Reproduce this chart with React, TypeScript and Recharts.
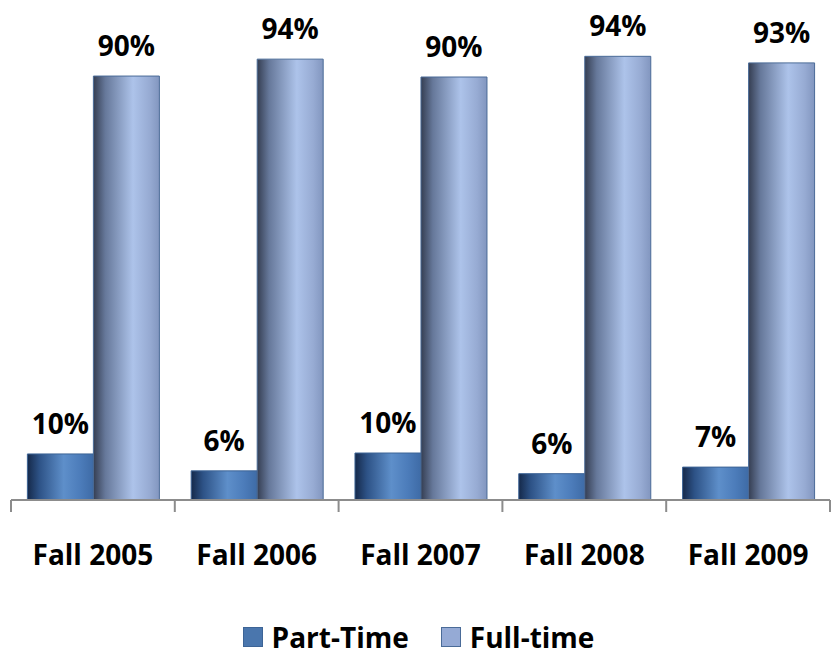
import React from 'react';
import { BarChart, Bar, XAxis, YAxis, LabelList, Legend } from 'recharts';

const YEARS = ['Fall 2005', 'Fall 2006', 'Fall 2007', 'Fall 2008', 'Fall 2009'];
const PART_TIME = [9.8, 6.2, 10.0, 5.6, 7.0];
const FULL_TIME = [90.2, 93.8, 90.0, 94.4, 93.0];

const data = YEARS.map((name, i) => ({ name, partTime: PART_TIME[i], fullTime: FULL_TIME[i] }));

const FONT = '"Open Sans", sans-serif';
const CHART_W = 837;
const MARGIN = { top: 30, right: 7, left: 11, bottom: 57 };
const BAND = (CHART_W - MARGIN.left - MARGIN.right) / YEARS.length;

const pct = (v: any) => `${Math.round(Number(v))}%`;

// category label plus tick marks on the category boundaries
const CategoryTick = (props: any) => {
  const { x, y, payload, index } = props;
  const left = x - BAND / 2;
  const right = x + BAND / 2;
  return (
    <g>
      <line x1={left} x2={left} y1={y} y2={y + 12} stroke="#8c8c8c" strokeWidth={2} />
      {index === YEARS.length - 1 && (
        <line x1={right} x2={right} y1={y} y2={y + 12} stroke="#8c8c8c" strokeWidth={2} />
      )}
      <text x={x} y={y + 65} textAnchor="middle" fontFamily={FONT} fontWeight={700} fontSize={28} fill="#000">
        {payload.value}
      </text>
    </g>
  );
};

const LegendContent = () => (
  <div style={{ display: 'flex', justifyContent: 'center', alignItems: 'center', fontFamily: FONT, fontWeight: 700, fontSize: 28, color: '#000', gap: 32 }}>
    <span style={{ display: 'flex', alignItems: 'center' }}>
      <span style={{ width: 18, height: 18, background: '#4a76ad', border: '1px solid #3d6496', marginRight: 9 }} />
      Part-Time
    </span>
    <span style={{ display: 'flex', alignItems: 'center' }}>
      <span style={{ width: 18, height: 18, background: '#95aad5', border: '1px solid #4a6b98', marginRight: 9 }} />
      Full-time
    </span>
  </div>
);

const App: React.FC = () => {
  return (
    <div style={{ position: 'absolute', left: 0, top: 0, width: 837, height: 657, background: '#fff' }}>
      <BarChart
        width={CHART_W}
        height={657}
        data={data}
        margin={MARGIN}
        barCategoryGap="10%"
        barGap={0}
      >
        <defs>
          <linearGradient id="ptGrad" x1="0" y1="0" x2="1" y2="0">
            <stop offset="0%" stopColor="#15294a" />
            <stop offset="18%" stopColor="#2d5286" />
            <stop offset="55%" stopColor="#5e8fca" />
            <stop offset="80%" stopColor="#4c7cba" />
            <stop offset="100%" stopColor="#3e6ba6" />
          </linearGradient>
          <linearGradient id="ftGrad" x1="0" y1="0" x2="1" y2="0">
            <stop offset="0%" stopColor="#353e52" />
            <stop offset="18%" stopColor="#66789a" />
            <stop offset="60%" stopColor="#adc3ea" />
            <stop offset="85%" stopColor="#97abd3" />
            <stop offset="100%" stopColor="#8296bf" />
          </linearGradient>
        </defs>
        <YAxis hide domain={[0, 100]} />
        <XAxis
          dataKey="name"
          height={60}
          axisLine={{ stroke: '#8c8c8c', strokeWidth: 2 }}
          tickLine={false}
          tickSize={0}
          tickMargin={0}
          interval={0}
          tick={<CategoryTick />}
        />
        <Legend verticalAlign="bottom" height={40} content={<LegendContent />} wrapperStyle={{ top: 618, left: 0, width: 837 }} />
        <Bar dataKey="partTime" name="Part-Time" fill="url(#ptGrad)" stroke="#3d6496" strokeWidth={1} isAnimationActive={false}>
          <LabelList dataKey="partTime" position="top" offset={20} formatter={pct} style={{ fontFamily: FONT, fontWeight: 700, fontSize: 28, fill: '#000' }} />
        </Bar>
        <Bar dataKey="fullTime" name="Full-time" fill="url(#ftGrad)" stroke="#4a6b98" strokeWidth={1} isAnimationActive={false}>
          <LabelList dataKey="fullTime" position="top" offset={20} formatter={pct} style={{ fontFamily: FONT, fontWeight: 700, fontSize: 28, fill: '#000' }} />
        </Bar>
      </BarChart>
    </div>
  );
};

export default App;
